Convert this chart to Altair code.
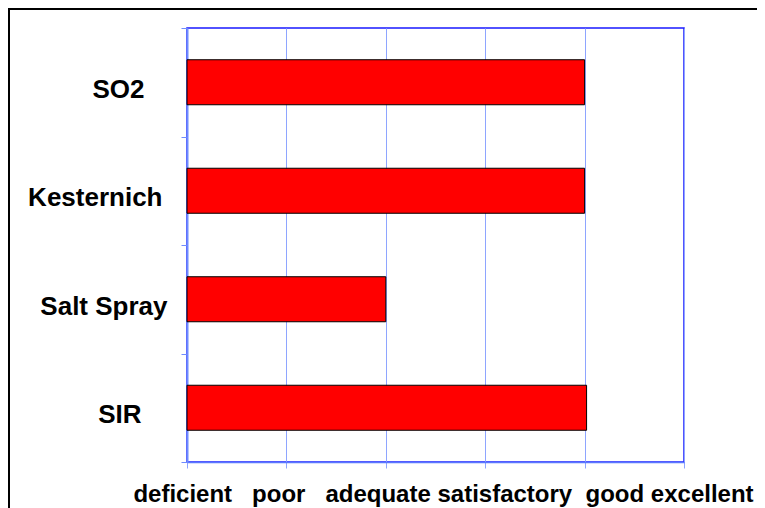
import altair as alt
import pandas as pd

tests = ["SO2", "Kesternich", "Salt Spray", "SIR"]
scores = [4, 4, 2, 4.02]
ratings = ["deficient", "poor", "adequate", "satisfactory", "good", "excellent"]
gaps = [3, 3, 1, 2, 1]

df = pd.DataFrame({"test": tests, "score": scores})

title = ratings[0]
for g, w in zip(gaps, ratings[1:]):
    title += "\u00a0" * g + w

FONT = "Liberation Sans"
GRID = "#8ea5ff"
AXC = "#6f8bff"

label_pad = {
    "condition": [
        {"test": "datum.value === 'SO2'", "value": 37},
        {"test": "datum.value === 'Kesternich'", "value": 19},
        {"test": "datum.value === 'Salt Spray'", "value": 14},
    ],
    "value": 40,
}

bars = alt.Chart(df).mark_bar(
    color="#ff0000", stroke="#000000", strokeWidth=1,
    height=alt.RelativeBandSize(0.415)
).encode(
    x=alt.X("score:Q",
            scale=alt.Scale(domain=[0, 5], nice=False, zero=True),
            axis=alt.Axis(values=[0, 1, 2, 3, 4, 5], labels=False, ticks=True,
                          tickSize=6, tickColor=GRID, grid=True, gridColor=GRID,
                          gridWidth=1, domainColor="#5b78ff", domainWidth=1.5,
                          title=title, titleFont=FONT, titleFontSize=24,
                          titleFontWeight="bold", titleColor="#000000",
                          titleX=256, titleY=39, titleAlign="center",
                          titleBaseline="alphabetic")),
    y=alt.Y("test:N", sort=tests,
            scale=alt.Scale(paddingInner=0, paddingOuter=0),
            axis=alt.Axis(title=None, tickBand="extent", tickSize=6,
                          tickColor=AXC, domainColor=AXC, domainWidth=2,
                          labelFont=FONT, labelFontSize=26, labelFontWeight="bold",
                          labelColor="#000000", labelAlign="right",
                          labelBaseline="middle", labelOffset=7,
                          labelPadding=label_pad, labelLimit=0)),
)

frame_df = pd.DataFrame({"k": [0]})
left_edge = alt.Chart(frame_df).mark_rule(color="#000000", strokeWidth=2).encode(
    x=alt.value(-178), y=alt.value(-20), y2=alt.value(480)
)
top_edge = alt.Chart(frame_df).mark_rule(color="#000000", strokeWidth=2).encode(
    x=alt.value(-179), x2=alt.value(600), y=alt.value(-19)
)

chart = alt.layer(bars, left_edge, top_edge).properties(
    width=497, height=434,
    autosize=alt.AutoSizeParams(type="none"),
    padding={"left": 179, "top": 20, "right": 73, "bottom": 46},
    background="#ffffff",
).configure_view(stroke="#1a1aff", strokeWidth=1.5)

chart.save("out.html", embed_options={"renderer": "svg", "actions": False})
